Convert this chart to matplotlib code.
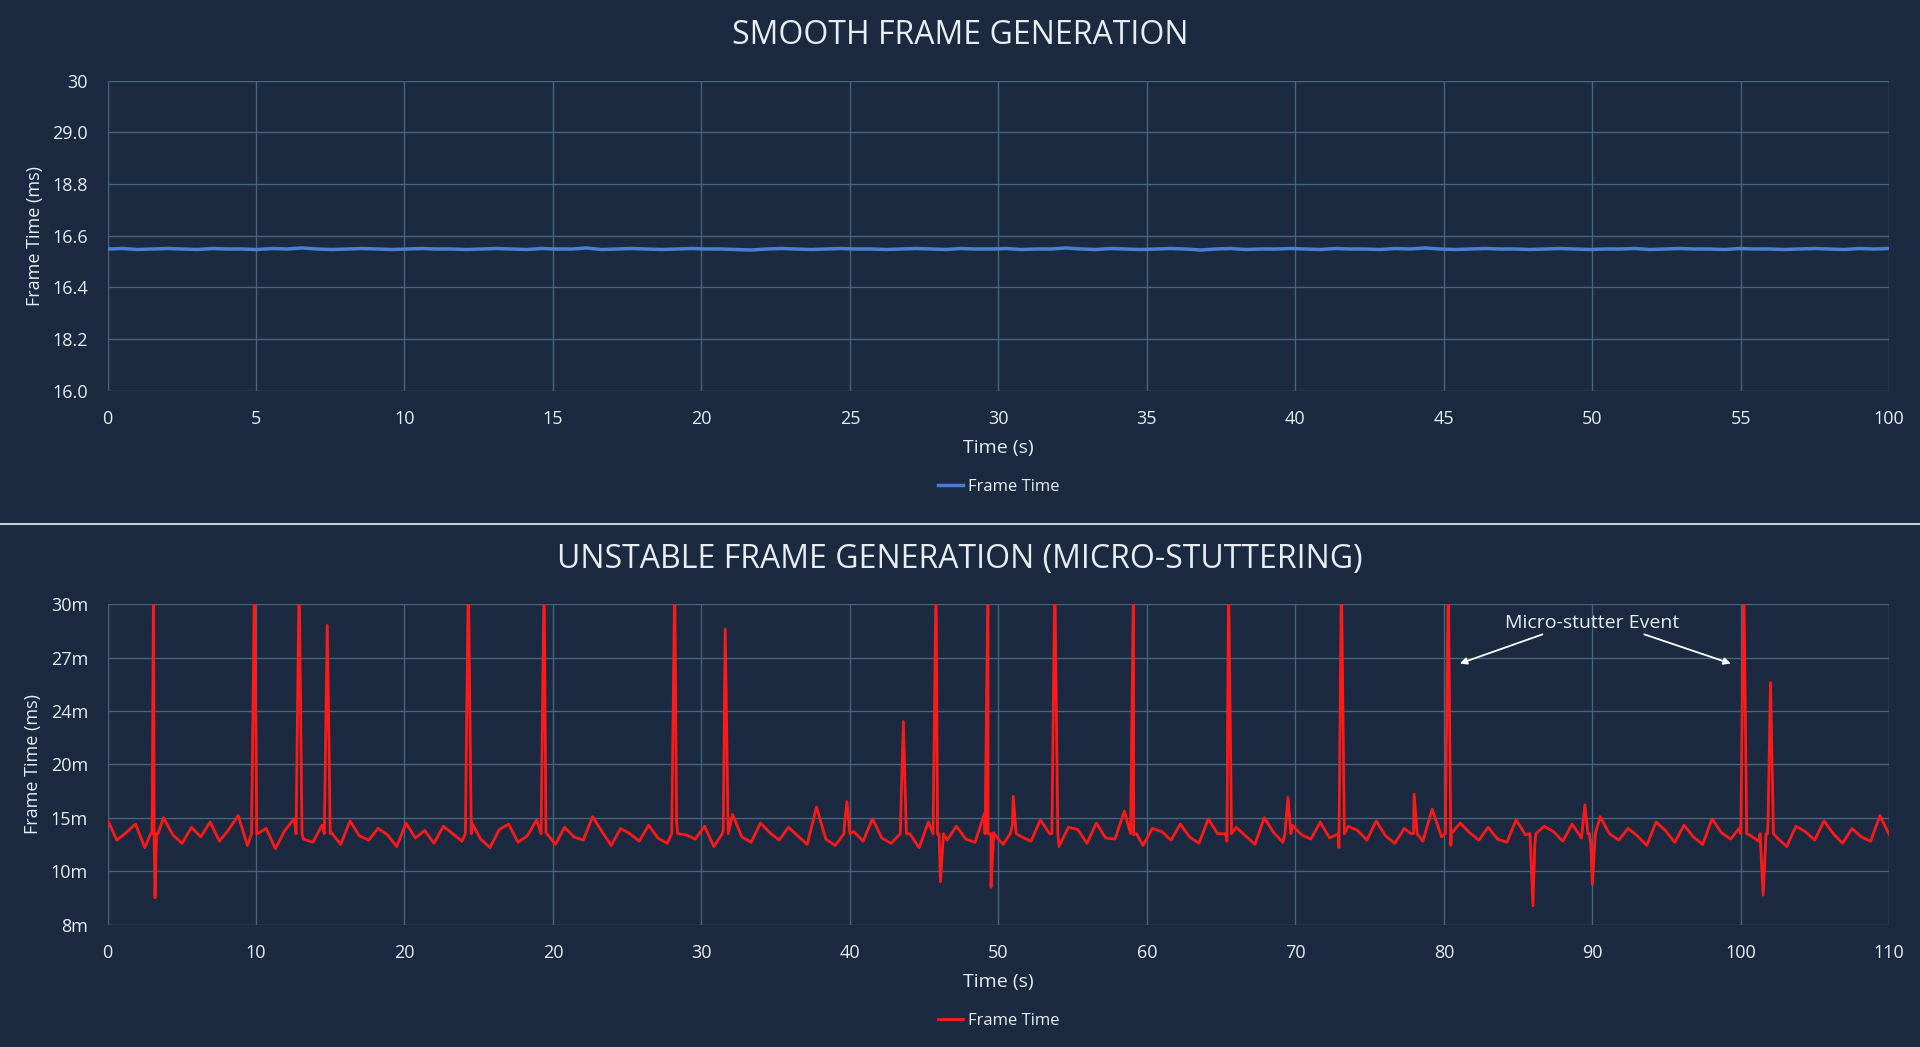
import matplotlib

matplotlib.use("Agg")
import matplotlib.pyplot as plt
import numpy as np

BG = "#1b2a40"
GRID = "#45657c"
TXT = "#e8edf2"
plt.rcParams["font.family"] = ["Open Sans", "DejaVu Sans"]

# ---- top chart (values in tick-index units, labels as shown) ----
top_xlabels = ["0", "5", "10", "15", "20", "25", "30", "35", "40", "45", "50", "55", "100"]
top_ylabels = ["16.0", "18.2", "16.4", "16.6", "18.8", "29.0", "30"]
top_values = [2.74, 2.75, 2.73, 2.74, 2.75, 2.74, 2.73, 2.75, 2.74, 2.74, 2.73, 2.75,
              2.74, 2.76, 2.74, 2.73, 2.74, 2.75, 2.74, 2.73, 2.74, 2.75, 2.74, 2.74,
              2.73, 2.74, 2.75, 2.74, 2.73, 2.75, 2.74, 2.74, 2.76, 2.73, 2.74, 2.75,
              2.74, 2.73, 2.74, 2.75, 2.74, 2.74, 2.73, 2.72, 2.74, 2.75, 2.74, 2.73,
              2.74, 2.75, 2.74, 2.74, 2.73, 2.74, 2.75, 2.74, 2.73, 2.75, 2.74, 2.74,
              2.75, 2.73, 2.74, 2.74, 2.76, 2.74, 2.73, 2.75, 2.74, 2.73, 2.74, 2.75,
              2.74, 2.72, 2.74, 2.75, 2.73, 2.74, 2.74, 2.75, 2.74, 2.73, 2.75, 2.74,
              2.74, 2.73, 2.75, 2.74, 2.76, 2.74, 2.73, 2.74, 2.75, 2.74, 2.74, 2.73,
              2.74, 2.75, 2.74, 2.73, 2.74, 2.74, 2.75, 2.73, 2.74, 2.75, 2.74, 2.74,
              2.73, 2.75, 2.74, 2.74, 2.73, 2.74, 2.75, 2.74, 2.73, 2.75, 2.74, 2.75]

# ---- bottom chart ----
bot_xlabels = ["0", "10", "20", "20", "30", "40", "50", "60", "70", "80", "90", "100", "110"]
bot_yticks_ms = [8, 10, 15, 20, 24, 27, 30]
bot_ylabels = ["8m", "10m", "15m", "20m", "24m", "27m", "30m"]
baseline_ms = [
    14.8, 12.9, 13.6, 14.4, 12.2, 13.1, 15.0, 13.4, 12.6, 14.1, 13.2, 14.6, 12.8, 13.9, 15.2, 12.4,
    13.5, 14.0, 12.1, 13.8, 14.9, 13.0, 12.7, 14.3, 13.6, 12.5, 14.7, 13.3, 12.9, 14.0, 13.4, 12.3,
    14.5, 13.1, 13.8, 12.6, 14.2, 13.5, 12.8, 14.6, 13.0, 12.2, 13.9, 14.4, 12.7, 13.3, 14.8, 13.6,
    12.5, 14.1, 13.2, 12.9, 15.1, 13.7, 12.4, 14.0, 13.5, 12.8, 14.3, 13.1, 12.6, 14.7, 13.4, 13.0,
    14.2, 12.3, 13.8, 15.3, 13.2, 12.7, 14.5, 13.6, 12.9, 14.1, 13.3, 12.5, 16.0, 13.0, 12.4, 14.4,
    13.7, 12.8, 14.9, 13.1, 12.6, 14.0, 13.5, 12.2, 14.6, 13.4, 12.9, 14.2, 13.0, 12.7, 15.4, 13.6,
    12.5, 14.3, 13.2, 12.8, 14.8, 13.5, 12.3, 14.1, 13.9, 12.6, 14.5, 13.1, 13.0, 15.6, 13.4, 12.4,
    14.0, 13.7, 12.9, 14.4, 13.2, 12.6, 14.9, 13.5, 12.8, 14.1, 13.3, 12.5, 15.0, 13.6, 12.7, 14.3,
    13.4, 13.0, 14.6, 13.1, 12.2, 14.2, 13.8, 12.9, 14.7, 13.3, 12.6, 14.0, 13.5, 12.8, 15.8, 13.2,
    12.4, 14.5, 13.6, 12.9, 14.1, 13.0, 12.7, 14.8, 13.4, 12.5, 14.2, 13.7, 12.8, 14.4, 13.1, 12.6,
    15.1, 13.5, 12.9, 14.0, 13.3, 12.4, 14.6, 13.8, 12.7, 14.3, 13.2, 12.5, 14.9, 13.6, 13.0, 14.1,
    13.4, 12.8, 14.5, 13.1, 12.3, 14.2, 13.7, 12.9, 14.7, 13.5, 12.6, 14.0, 13.2, 12.8, 15.2, 13.4,
]
spike_pos = [0.31, 0.99, 1.29, 1.48, 2.43, 2.94, 3.82, 4.16, 5.36, 5.58, 5.93, 6.38, 6.91, 7.55,
             8.31, 9.03, 11.02, 11.2, 4.98, 6.1, 8.8, 9.95, 7.95]
spike_ms = [31, 31, 31, 28.8, 31, 31, 31, 28.6, 23.2, 31, 31, 31, 31, 31,
            31, 31, 31, 25.6, 16.5, 17, 17.2, 16.2, 16.9]
dip_pos = [0.32, 5.61, 5.95, 9.6, 10.0, 11.15]
dip_ms = [9.0, 9.6, 9.4, 8.7, 9.5, 9.1]

fig = plt.figure(figsize=(19.2, 10.47), dpi=100, facecolor=BG)


def style(ax):
    ax.set_facecolor(BG)
    ax.grid(True, color=GRID, linewidth=1)
    for s in ax.spines.values():
        s.set_visible(False)
    ax.tick_params(colors=TXT, labelsize=13, length=0, pad=14)


# top
ax1 = fig.add_axes((0.056, 0.627, 0.928, 0.296))
style(ax1)
tx = np.linspace(0, 12, len(top_values))
ax1.plot(tx, top_values, color="#4a7fd4", linewidth=2.5, label="Frame Time")
ax1.set_xlim(0, 12)
ax1.set_ylim(0, 6)
ax1.set_xticks(range(13), top_xlabels)
ax1.set_yticks(range(7), top_ylabels)
ax1.set_xlabel("Time (s)", color=TXT, fontsize=14, labelpad=8)
ax1.set_ylabel("Frame Time (ms)", color=TXT, fontsize=13, labelpad=6)
fig.text(0.5, 0.966, "SMOOTH FRAME GENERATION", color=TXT, fontsize=23, ha="center", va="center")
ax1.legend(loc="center", bbox_to_anchor=(0.5, -0.31), frameon=False, labelcolor=TXT, fontsize=12,
           handlelength=1.5, handletextpad=0.3)

fig.add_artist(plt.Line2D([0, 1], [0.5, 0.5], color="#c8d2dc", linewidth=1.5))

# bottom
ax2 = fig.add_axes((0.056, 0.117, 0.928, 0.306))
style(ax2)
n = len(baseline_ms)
bx = list(np.linspace(0, 12, n))
by = list(np.interp(baseline_ms, bot_yticks_ms, range(7)))
for p, v in list(zip(spike_pos, spike_ms)) + list(zip(dip_pos, dip_ms)):
    bx += [p - 0.02, p, p + 0.02]
    yv = np.interp(v, bot_yticks_ms, range(7)) if v <= 30 else 6.5
    by += [1.7, yv, 1.7]
order = np.argsort(bx)
ax2.plot(np.array(bx)[order], np.array(by)[order], color="#ff1a1a", linewidth=2, label="Frame Time")
ax2.set_xlim(0, 12)
ax2.set_ylim(0, 6)
ax2.set_xticks(range(13), bot_xlabels)
ax2.set_yticks(range(7), bot_ylabels)
ax2.set_xlabel("Time (s)", color=TXT, fontsize=14, labelpad=8)
ax2.set_ylabel("Frame Time (ms)", color=TXT, fontsize=13, labelpad=6)
fig.text(0.5, 0.466, "UNSTABLE FRAME GENERATION (MICRO-STUTTERING)", color=TXT, fontsize=23,
         ha="center", va="center")
ax2.legend(loc="center", bbox_to_anchor=(0.5, -0.3), frameon=False, labelcolor=TXT, fontsize=12,
           handlelength=1.5, handletextpad=0.3)
for tgt in [(9.09, 4.87), (10.95, 4.87)]:
    ax2.annotate("", xy=tgt, xytext=(10.0 + (tgt[0] - 10.0) * 0.35, 5.45),
                 arrowprops=dict(arrowstyle="-|>", color="white", lw=1.3))
ax2.text(10.0, 5.65, "Micro-stutter Event", color=TXT, fontsize=14, ha="center", va="center")

fig.savefig("out.png", dpi=100, facecolor=BG)
